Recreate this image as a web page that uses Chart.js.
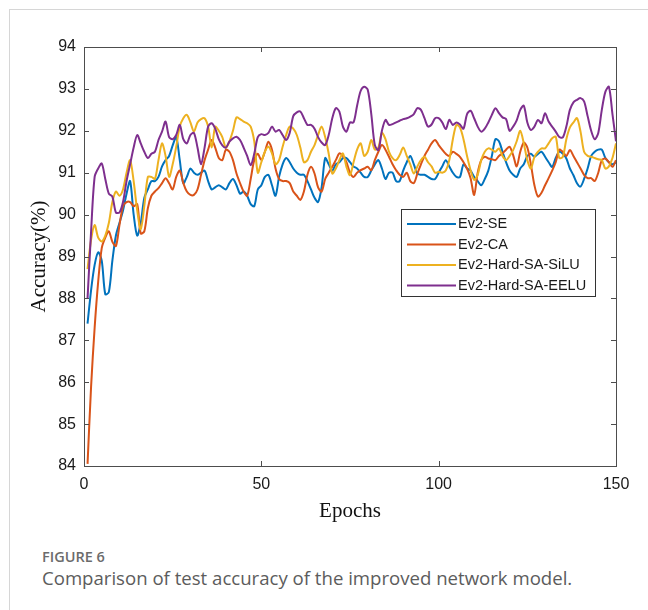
<!DOCTYPE html>
<html>
<head>
<meta charset="utf-8">
<script src="https://cdn.jsdelivr.net/npm/chart.js@4.4.1/dist/chart.umd.min.js"></script>
<style>
    body { margin: 0; background: #fff; }
    #frame { position: absolute; left: 9px; top: 9px; width: 640px; height: 601px;
             border-left: 1px solid #d6d6d6; border-top: 1px solid #d6d6d6; }
    #chart { position: absolute; left: 0; top: 0; }
    .fig { position: absolute; left: 42px; font-family: "Open Sans", sans-serif; }
    #figno { top: 547px; font-size: 14.5px; font-weight: 600; color: #6b6b6b; }
    #figcap { top: 565px; font-size: 18.6px; color: #5c5c5c; }
</style>
</head>
<body>
<div id="frame"></div>
<canvas id="chart" width="648" height="530"></canvas>
<div class="fig" id="figno">FIGURE 6</div>
<div class="fig" id="figcap">Comparison of test accuracy of the improved network model.</div>
<script>
// epochs 1..150
const epochs = Array.from({ length: 150 }, (_, i) => i + 1);
const seriesNames = ['Ev2-SE', 'Ev2-CA', 'Ev2-Hard-SA-SiLU', 'Ev2-Hard-SA-EELU'];
const seriesColors = ['#0072BD', '#D95319', '#EDB120', '#7E2F8E'];
const xTicks = [0, 50, 100, 150];
const yTicks = [84, 85, 86, 87, 88, 89, 90, 91, 92, 93, 94];

const accSE = [
    87.4, 88.2, 88.8, 89.1, 88.9, 88.1, 88.15, 88.9, 89.5, 89.8,
    90.1, 90.5, 90.8, 90.0, 89.5, 89.8, 90.4, 90.6, 90.8, 90.8,
    90.9, 91.15, 91.3, 91.4, 91.65, 91.85, 91.3, 90.75, 90.9, 91.1,
    91.0, 90.95, 91.0, 91.05, 90.8, 90.6, 90.65, 90.7, 90.65, 90.6,
    90.75, 90.85, 90.7, 90.5, 90.55, 90.45, 90.25, 90.2, 90.6, 90.7,
    90.9, 90.95, 90.7, 90.45, 90.9, 91.2, 91.35, 91.25, 91.1, 91.0,
    90.95, 90.95, 90.8, 90.6, 90.4, 90.3, 90.65, 91.35, 91.2, 91.05,
    91.2, 91.25, 91.35, 91.35, 91.25, 91.15, 91.1, 91.0, 90.9, 90.9,
    91.05, 91.2, 91.3, 91.1, 90.85, 91.0, 91.0, 90.8, 90.8, 91.05,
    91.25, 91.4, 91.2, 90.98, 90.95, 90.95, 90.9, 90.85, 90.85, 91.0,
    91.15, 91.3, 91.15, 91.0, 90.9, 90.9, 91.2, 91.1, 91.05, 90.9,
    90.8, 90.7, 90.85, 91.05, 91.4, 91.8, 91.75, 91.5, 91.25, 91.05,
    90.95, 90.9, 91.1, 91.2, 91.4, 91.45, 91.38, 91.45, 91.5, 91.38,
    91.25, 91.14, 91.35, 91.5, 91.45, 91.34, 91.1, 90.94, 90.75, 90.67,
    90.85, 91.1, 91.4, 91.5, 91.55, 91.55, 91.35, 91.25, 91.2, 91.25
];
const accCA = [
    84.05, 85.9, 87.3, 88.4, 89.2, 89.45, 89.6, 89.35, 89.25, 89.75,
    90.2, 90.3, 90.3, 90.2, 90.25, 89.55, 89.6, 90.15, 90.45, 90.55,
    90.63, 90.75, 90.87, 90.75, 90.6, 90.9, 91.05, 90.75, 90.55, 90.47,
    90.47, 90.6, 90.95, 91.3, 91.55, 91.78, 91.6, 91.35, 91.3, 91.55,
    91.5, 91.3, 90.98, 90.75, 90.55, 90.45, 90.85, 91.3, 91.45, 91.3,
    91.5, 91.74, 91.55, 91.1, 90.85, 90.8, 90.8, 90.75, 90.55, 90.45,
    90.35, 90.55, 90.95, 91.14, 90.98, 90.65, 90.55, 90.85, 91.0, 91.14,
    91.3, 91.46, 91.4, 91.25, 91.0, 90.9, 91.0, 91.06, 91.1, 91.14,
    91.06, 91.3, 91.5, 91.66, 91.55, 91.38, 91.2, 91.06, 90.95, 90.9,
    91.0, 90.8, 90.75, 90.98, 91.2, 91.4, 91.55, 91.7, 91.78, 91.66,
    91.55, 91.45, 91.4, 91.5, 91.45, 91.38, 91.25, 91.1, 90.87, 90.47,
    91.0, 91.3, 91.38, 91.34, 91.32, 91.3, 91.4, 91.46, 91.55, 91.62,
    91.42, 91.15, 91.5, 91.72, 91.6, 91.2, 90.7, 90.43, 90.52, 90.7,
    90.87, 91.05, 91.25, 91.55, 91.5, 91.4, 91.54, 91.4, 91.25, 91.1,
    90.95, 90.87, 90.87, 90.8, 91.0, 91.3, 91.34, 91.25, 91.14, 91.3
];
const accSiLU = [
    88.7, 89.4, 89.75, 89.45, 89.36, 89.5, 89.8, 90.3, 90.55, 90.45,
    90.6, 91.0, 91.3, 90.8, 90.1, 89.65, 90.2, 90.9, 90.9, 90.85,
    91.3, 91.7, 91.4, 90.9, 91.2, 91.62, 92.1, 92.3, 92.38, 92.2,
    91.98, 92.2, 92.28, 92.3, 92.1, 91.6, 92.1, 92.0, 91.85, 91.6,
    91.75, 92.0, 92.32, 92.28, 92.22, 92.18, 92.1, 91.75, 91.0, 91.25,
    91.5, 91.62, 91.46, 91.2, 91.3, 91.62, 91.9, 92.1, 92.05, 91.9,
    91.6, 91.25, 91.3, 91.5, 91.66, 91.9, 92.1, 91.85, 91.45, 90.98,
    91.1, 91.3, 91.46, 91.14, 90.94, 91.25, 91.55, 91.7, 91.4, 91.5,
    91.78, 91.55, 91.6, 91.95, 91.8, 91.5, 91.35, 91.3, 91.42, 91.6,
    91.4, 91.2, 90.98, 91.15, 91.3, 91.38, 91.25, 91.15, 91.0, 91.02,
    91.0, 91.05, 91.3, 91.8, 92.14, 92.08, 91.8, 91.4, 91.06, 90.83,
    90.95, 91.3, 91.5, 91.58, 91.55, 91.5, 91.58, 91.4, 91.3, 91.4,
    91.54, 91.75, 92.0, 91.7, 91.3, 91.1, 91.38, 91.5, 91.58, 91.58,
    91.7, 91.82, 91.86, 91.35, 91.38, 91.8, 92.08, 92.2, 92.3, 91.98,
    91.5, 91.4, 91.38, 91.35, 91.32, 91.3, 91.1, 91.15, 91.35, 91.7
];
const accEELU = [
    88.0, 89.6, 90.9, 91.1, 91.22, 90.85, 90.5, 90.43, 90.05, 90.05,
    90.3, 90.8, 91.2, 91.6, 91.9, 91.7, 91.5, 91.35, 91.45, 91.5,
    91.78, 91.98, 92.22, 91.85, 91.8, 91.9, 92.14, 91.8, 91.7, 91.9,
    91.95, 91.6, 91.2, 91.6, 92.1, 92.18, 92.05, 91.8, 91.65, 91.6,
    91.74, 91.82, 91.86, 91.78, 91.6, 91.4, 91.18, 91.45, 91.85, 91.92,
    91.9, 91.95, 92.1, 91.98, 92.02, 91.9, 91.78, 91.95, 92.35, 92.44,
    92.46, 92.3, 92.14, 92.14, 92.05, 91.85, 91.72, 91.66, 91.9, 92.3,
    92.54, 92.46, 92.1, 91.98, 92.2, 92.2, 92.6, 92.95, 93.05, 92.98,
    92.4, 91.66, 91.54, 92.0, 92.26, 92.14, 92.16, 92.2, 92.24, 92.28,
    92.3, 92.34, 92.4, 92.54, 92.5, 92.3, 92.1, 92.15, 92.3, 92.3,
    92.2, 92.04, 92.26, 92.14, 92.2, 92.15, 92.05, 92.4, 92.48, 92.3,
    92.1, 91.98, 92.05, 92.2, 92.38, 92.54, 92.42, 92.32, 92.28, 92.0,
    92.1, 92.25, 92.5, 92.6, 92.2, 92.02, 92.1, 92.26, 92.18, 92.42,
    92.22, 92.1, 91.98, 91.85, 91.84, 92.1, 92.5, 92.68, 92.74, 92.78,
    92.7, 92.35, 92.0, 91.8, 91.95, 92.5, 92.93, 93.05, 92.4, 91.75
];
const seriesValues = [accSE, accCA, accSiLU, accEELU];

const serif = '"Liberation Serif", "Times New Roman", serif';
const sans = '"Liberation Sans", Arial, sans-serif';

// MATLAB style box with inward ticks + legend inside the axes
const matlabBox = {
    id: 'matlabBox',
    afterDatasetsDraw(chart) {
        const { ctx, chartArea: a, scales } = chart;
        ctx.save();
        ctx.strokeStyle = '#4d4d4d';
        ctx.lineWidth = 1;
        ctx.strokeRect(a.left + 0.5, a.top + 0.5, a.right - a.left, a.bottom - a.top);
        ctx.beginPath();
        yTicks.forEach(v => {
            const y = Math.round(scales.y.getPixelForValue(v)) + 0.5;
            ctx.moveTo(a.left, y); ctx.lineTo(a.left + 5, y);
            ctx.moveTo(a.right, y); ctx.lineTo(a.right - 5, y);
        });
        xTicks.forEach(v => {
            const x = Math.round(scales.x.getPixelForValue(v)) + 0.5;
            ctx.moveTo(x, a.bottom); ctx.lineTo(x, a.bottom - 5);
            ctx.moveTo(x, a.top); ctx.lineTo(x, a.top + 5);
        });
        ctx.stroke();

        // legend
        const lx = 401, ly = 209, lw = 194, lh = 87;
        ctx.fillStyle = '#fff';
        ctx.fillRect(lx, ly, lw, lh);
        ctx.strokeStyle = '#333';
        ctx.strokeRect(lx + 0.5, ly + 0.5, lw, lh);
        ctx.font = '14.5px ' + sans;
        ctx.textBaseline = 'middle';
        chart.data.datasets.forEach((ds, i) => {
            const y = ly + 15 + i * 20.5;
            ctx.strokeStyle = ds.borderColor;
            ctx.lineWidth = 2;
            ctx.beginPath();
            ctx.moveTo(lx + 6, y); ctx.lineTo(lx + 55, y);
            ctx.stroke();
            ctx.fillStyle = '#1a1a1a';
            ctx.fillText(ds.label, lx + 57, y);
        });
        ctx.restore();
    }
};

new Chart(document.getElementById('chart'), {
    type: 'line',
    data: {
        datasets: seriesNames.map((name, i) => ({
            label: name,
            data: epochs.map((e, j) => ({ x: e, y: seriesValues[i][j] })),
            borderColor: seriesColors[i],
            borderWidth: 2,
            pointRadius: 0,
            tension: 0.3,
            fill: false,
            order: seriesNames.length - i
        }))
    },
    options: {
        responsive: false,
        animation: false,
        devicePixelRatio: 1,
        layout: { padding: { left: 0, top: 47, right: 32, bottom: 0 } },
        scales: {
            x: {
                type: 'linear',
                min: 0,
                max: 150,
                afterBuildTicks: s => { s.ticks = xTicks.map(v => ({ value: v })); },
                afterFit: s => { s.height = 64; },
                grid: { display: false, drawTicks: false },
                border: { display: false },
                ticks: { padding: 9, color: '#1a1a1a', font: { family: sans, size: 16 }, maxRotation: 0 },
                title: { display: true, text: 'Epochs', color: '#111', font: { family: serif, size: 21 }, padding: { top: 0, bottom: 6 } }
            },
            y: {
                min: 84,
                max: 94,
                afterBuildTicks: s => { s.ticks = yTicks.map(v => ({ value: v })); },
                afterFit: s => { s.width = 84; },
                grid: { display: false, drawTicks: false },
                border: { display: false },
                ticks: { padding: 8, color: '#1a1a1a', font: { family: sans, size: 16 } },
                title: { display: true, text: 'Accuracy(%)', color: '#111', font: { family: serif, size: 21 }, padding: { top: 27, bottom: 0 } }
            }
        },
        plugins: {
            legend: { display: false },
            tooltip: { enabled: false }
        }
    },
    plugins: [matlabBox]
});
</script>
</body>
</html>
